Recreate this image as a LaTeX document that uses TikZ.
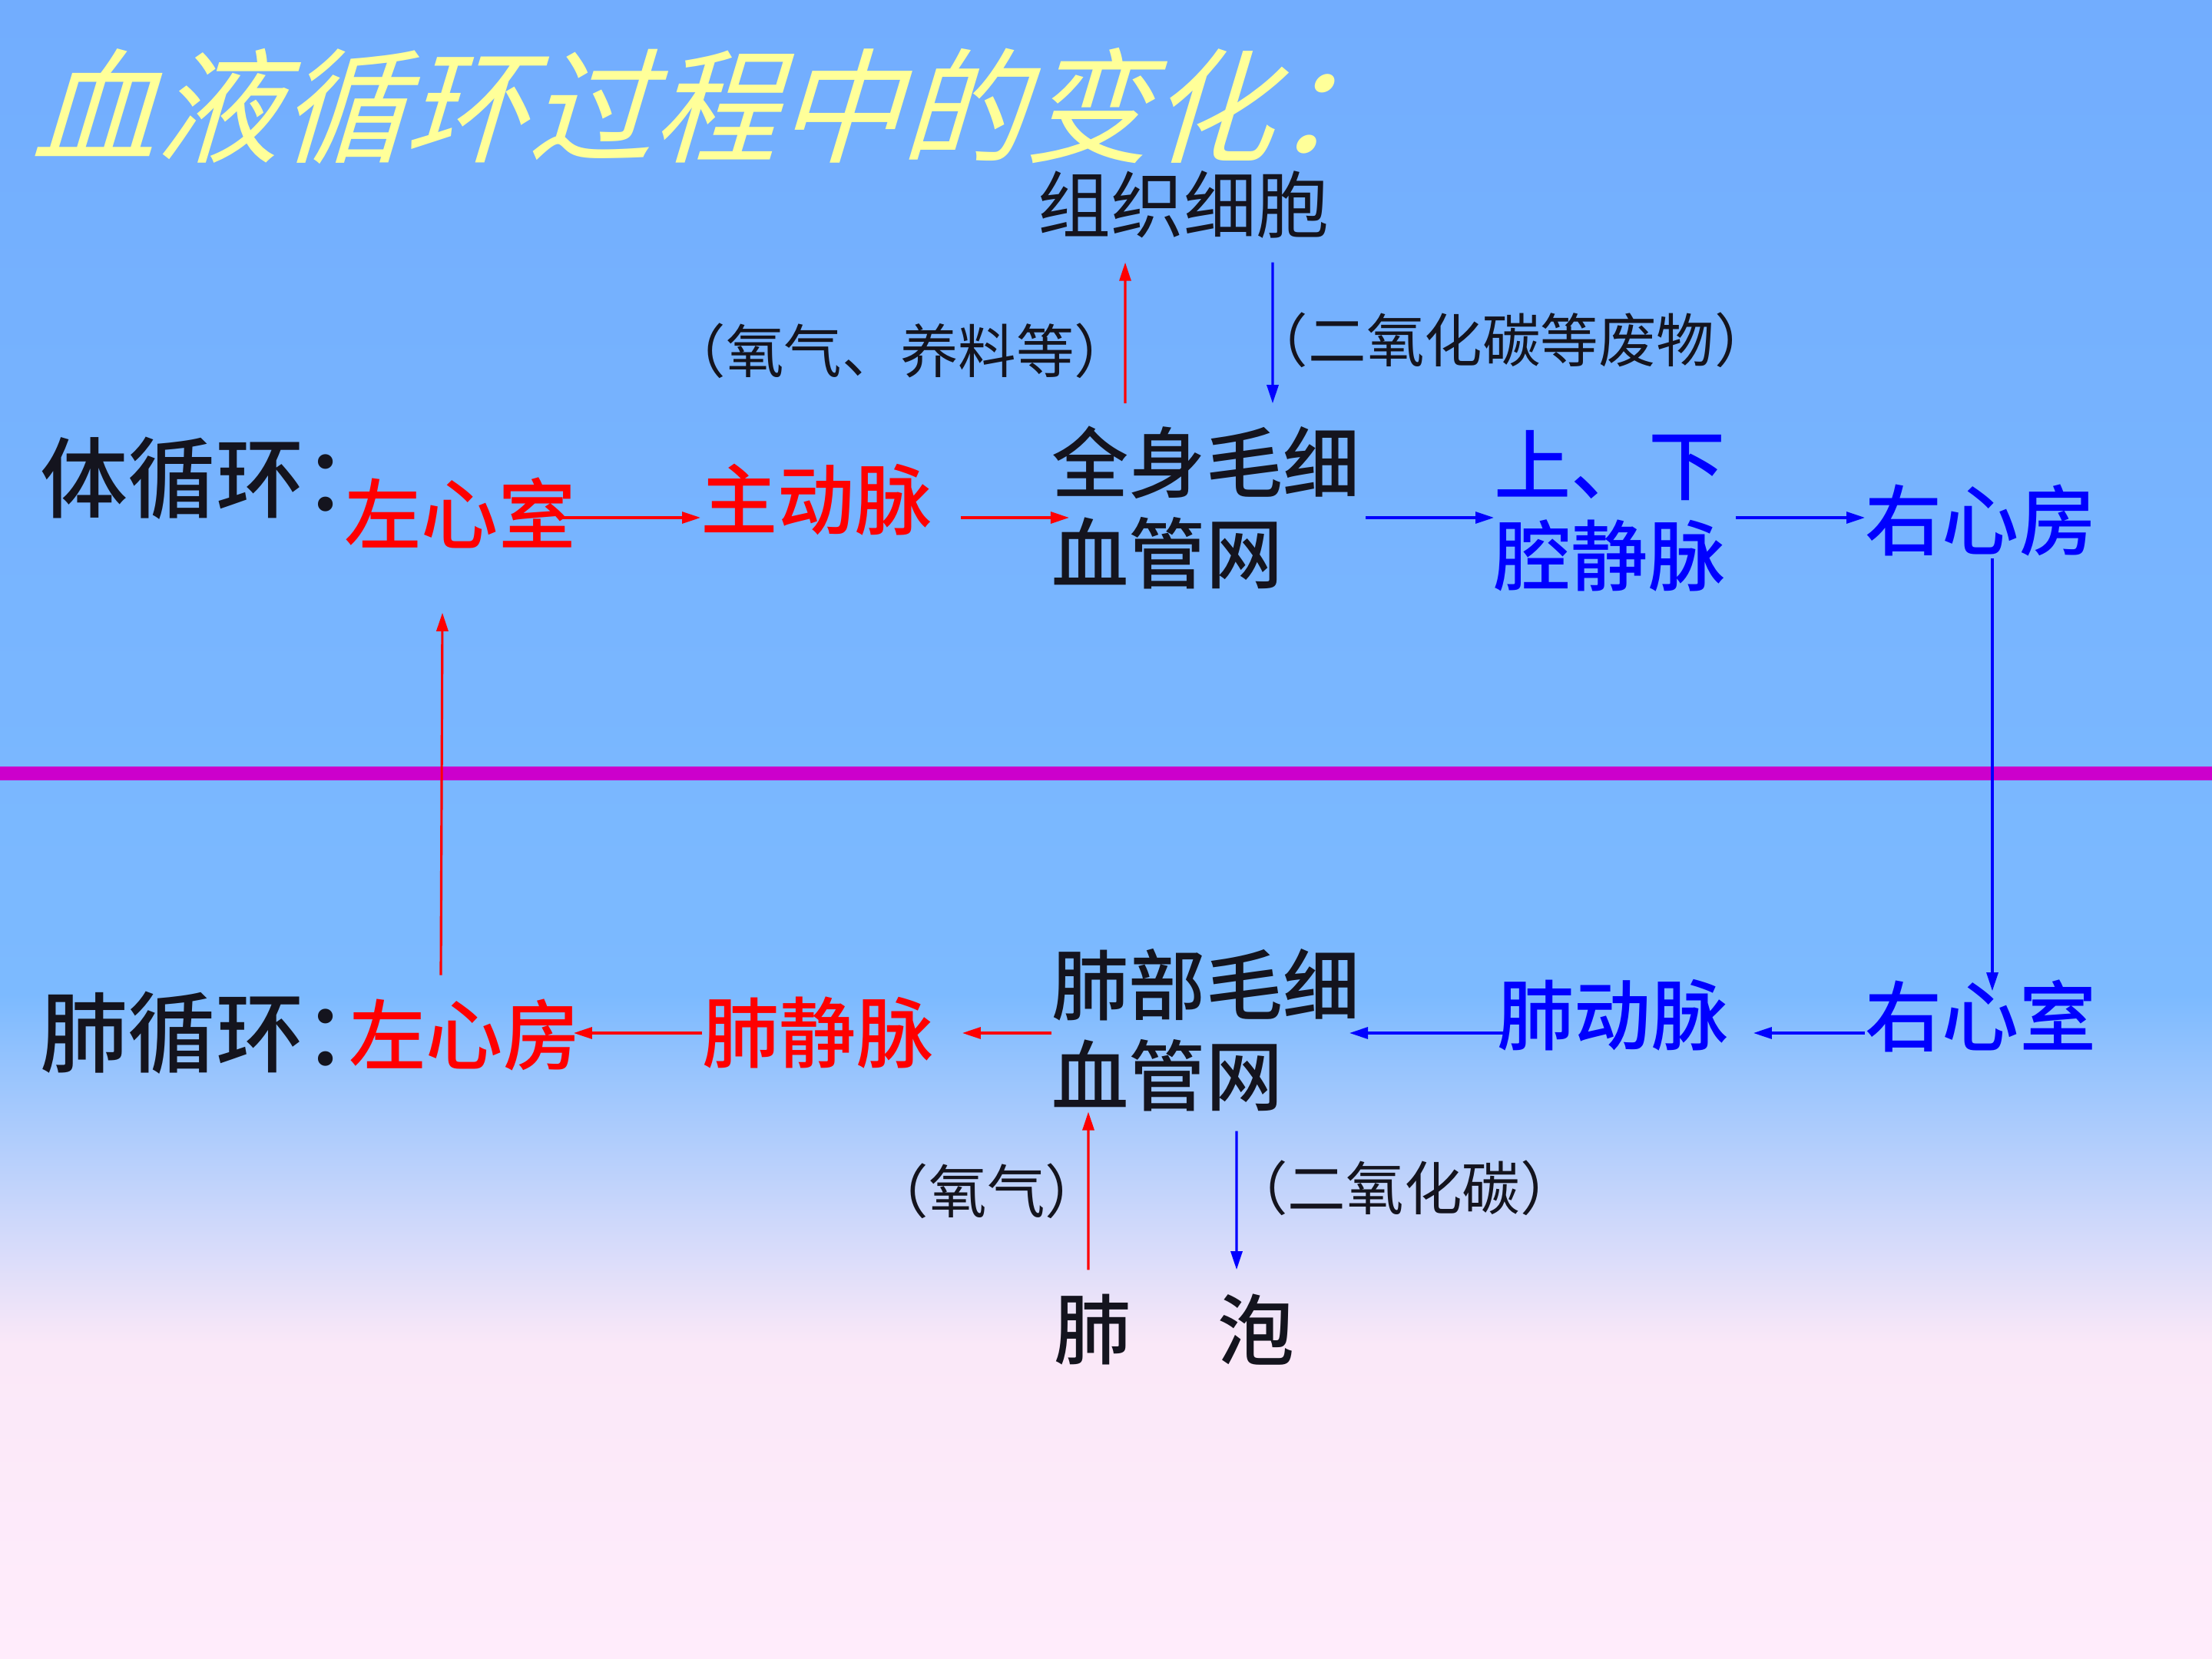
\documentclass[tikz,border=0pt]{standalone}
\usepackage{fontspec}
\setmainfont{Noto Sans CJK SC}
\newfontfamily\titlefont[FakeSlant=0.3]{Noto Sans CJK SC}
\newfontfamily\medfont{Noto Sans CJK SC Medium}
\newfontfamily\headfont[RawFeature=+palt]{Noto Sans CJK SC Medium}
\usetikzlibrary{arrows.meta}
\definecolor{bgtop}{RGB}{114,173,254}
\definecolor{bgmid}{RGB}{124,186,255}
\definecolor{bgpink}{RGB}{250,232,248}
\definecolor{bgbot}{RGB}{255,236,251}
\definecolor{ink}{RGB}{20,20,30}
\definecolor{titleyellow}{RGB}{255,255,153}
\definecolor{divider}{RGB}{204,0,204}
\begin{document}
\begin{tikzpicture}[
  big/.style={inner sep=0pt,align=left,font=\medfont\fontsize{28.5}{33.6}\selectfont},
  head/.style={inner sep=0pt,anchor=west,text=ink,font=\headfont\fontsize{32.5}{36}\selectfont},
  note/.style={inner sep=0pt,text=ink,font=\fontsize{21.5}{25}\selectfont},
  redarr/.style={draw=red,line width=0.9pt,-{Triangle[length=0.24cm,width=0.15cm]}},
  bluearr/.style={draw=blue,line width=0.9pt,-{Triangle[length=0.24cm,width=0.15cm]}}]
\useasboundingbox (0,0) rectangle (28.8,-21.6);
\shade[top color=bgtop,bottom color=bgmid] (0,0) rectangle (28.8,-12.95);
\shade[top color=bgmid,bottom color=bgpink] (0,-12.95) rectangle (28.8,-17.5);
\shade[top color=bgpink,bottom color=bgbot] (0,-17.5) rectangle (28.8,-21.6);
\fill[divider] (0,-9.98) rectangle (28.8,-10.16);
\coordinate (row1) at (0,-6.74);
\coordinate (row2) at (0,-13.45);

\node[anchor=base west,inner sep=0pt,text=titleyellow,font=\titlefont\fontsize{46}{50}\selectfont] (title) at (0.40,-2.00) {血液循环过程中的变化：};

\node[head] (tixh) at (0.52,-6.23) {体循环\makebox[0.4em][l]{：}};
\node[big,text=red] (zxs) at (5.99,-6.68) {左心室};
\node[big,text=red] (zdm) at (10.63,-6.51) {主动脉};
\node[big,text=ink] (qs) at (15.70,-6.61) {全身毛细\\血管网};
\node[big,text=blue] (sxq) at (20.96,-6.65) {上、下\\腔静脉};
\node[big,text=blue] (yxf) at (25.79,-6.77) {右心房};
\node[inner sep=0pt,text=ink,font=\fontsize{27}{30}\selectfont] (zzxb) at (15.41,-2.66) {组织细胞};
\node[note] (yyl) at (11.72,-4.57) {（氧气、养料等）};
\node[note] (ewfw) at (19.68,-4.43) {（二氧化碳等废物）};

\node[head] (feixh) at (0.52,-13.45) {肺循环\makebox[0.4em][l]{：}};
\node[big,text=blue] (yxs) at (25.79,-13.23) {右心室};
\node[big,text=blue] (fdm) at (21.00,-13.22) {肺动脉};
\node[big,text=ink] (fb) at (15.70,-13.41) {肺部毛细\\血管网};
\node[big,text=red] (fjm) at (10.65,-13.45) {肺静脉};
\node[big,text=red] (zxf) at (6.05,-13.47) {左心房};
\node[note] (yq) at (12.85,-15.51) {（氧气）};
\node[note] (ey) at (18.28,-15.47) {（二氧化碳）};
\node[big,text=ink] (fei) at (14.23,-17.31) {肺};
\node[big,text=ink] (pao) at (16.36,-17.31) {泡};

\draw[redarr] ([xshift=-2.1mm]zxs.east |- row1) -- (zdm.west |- row1);
\draw[redarr] ([xshift=3.7mm]zdm.east |- row1) -- ([xshift=2.3mm]qs.west |- row1);
\draw[bluearr] ([xshift=0.7mm]qs.east |- row1) -- (sxq.west |- row1);
\draw[bluearr] ([xshift=1.3mm]sxq.east |- row1) -- (yxf.west |- row1);
\draw[redarr] ([xshift=-10.5mm,yshift=2.9mm]qs.north) -- ([xshift=-7.6mm,yshift=-3.1mm]zzxb.south);
\draw[bluearr] ([xshift=11.6mm,yshift=-3.1mm]zzxb.south) -- ([xshift=8.7mm,yshift=2.9mm]qs.north);
\draw[bluearr] ([xshift=1.5mm,yshift=-0.3mm]yxf.south) -- ([xshift=1.5mm,yshift=-1.5mm]yxs.north);

\draw[bluearr] (yxs.west |- row2) -- ([xshift=3.2mm]fdm.east |- row2);
\draw[bluearr] ([xshift=1.2mm]fdm.west |- row2) -- ([xshift=-1.4mm]fb.east |- row2);
\draw[redarr] (fb.west |- row2) -- ([xshift=3.7mm]fjm.east |- row2);
\draw[redarr] (fjm.west |- row2) -- ([xshift=-0.9mm]zxf.east |- row2);
\draw[redarr] ([xshift=-3.1mm,yshift=3mm]zxf.north) -- ([xshift=-2.3mm,yshift=-8.3mm]zxs.south);
\draw[redarr] ([xshift=-0.6mm,yshift=3.1mm]fei.north) -- ([xshift=-15.3mm]fb.south);
\draw[bluearr] ([xshift=4mm,yshift=-2.5mm]fb.south) -- ([xshift=-2.6mm,yshift=3.1mm]pao.north);
\end{tikzpicture}
\end{document}
